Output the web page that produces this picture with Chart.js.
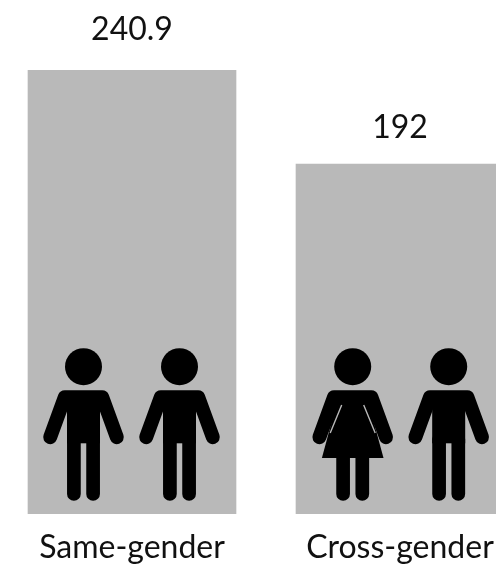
<!DOCTYPE html>
<html>
<head>
<meta charset="utf-8">
<title>Same-gender vs cross-gender</title>
<script src="https://cdn.jsdelivr.net/npm/chart.js@4/dist/chart.umd.min.js"></script>
<style>
    html, body {margin: 0; padding: 0; background: #fff; overflow: hidden; width: 496px; height: 565px;}
    #wrap {position: absolute; left: -2px; top: 0;}
</style>
</head>
<body>
<div id="wrap"><canvas id="chart" width="536" height="565"></canvas></div>
<script>
const categories = ['Same-gender', 'Cross-gender']
const values = [240.9, 192]
const valueLabels = ['240.9', '192']
const pairs = [['man', 'man'], ['woman', 'man']]

const barColor = '#b9b9b9'
const inkColor = '#000000'
const textColor = '#111111'
const fontName = 'Lato'

function drawPerson(ctx, kind, x, base){
    ctx.save()
    ctx.translate(x, base)
    ctx.fillStyle = inkColor
    ctx.strokeStyle = inkColor
    ctx.lineCap = 'round'
    ctx.lineJoin = 'round'

    ctx.beginPath()
    ctx.arc(0, -147.3, 18.5, 0, Math.PI * 2)
    ctx.fill()

    // shoulders and arms
    ctx.lineWidth = 14
    ctx.beginPath()
    ctx.moveTo(-33.3, -76.8)
    ctx.lineTo(-18.7, -116.8)
    ctx.lineTo(18.7, -116.8)
    ctx.lineTo(33.3, -76.8)
    ctx.stroke()

    // legs
    ctx.lineWidth = 13.7
    ctx.beginPath()
    ctx.moveTo(-9.6, -75)
    ctx.lineTo(-9.6, -20)
    ctx.moveTo(9.6, -75)
    ctx.lineTo(9.6, -20)
    ctx.stroke()

    if (kind === 'man'){
        ctx.fillRect(-16.5, -118, 33, 47.3)
    } else {
        ctx.beginPath()
        ctx.moveTo(-14, -118)
        ctx.lineTo(14, -118)
        ctx.lineTo(30.8, -56)
        ctx.lineTo(-30.8, -56)
        ctx.closePath()
        ctx.fill()
        // thin gap between the arms and the dress
        ctx.strokeStyle = barColor
        ctx.lineCap = 'butt'
        ctx.lineWidth = 1.4
        ctx.beginPath()
        ctx.moveTo(-11, -109)
        ctx.lineTo(-22.5, -81)
        ctx.moveTo(11, -109)
        ctx.lineTo(22.5, -81)
        ctx.stroke()
    }
    ctx.restore()
}

const peoplePlugin = {
    id: 'people',
    afterDatasetsDraw(chart){
        const ctx = chart.ctx
        const base = chart.chartArea.bottom
        chart.getDatasetMeta(0).data.forEach((bar, i)=>{
            const shift = i === 0 ? -0.5 : 0.7
            drawPerson(ctx, pairs[i][0], bar.x - 48 + shift, base)
            drawPerson(ctx, pairs[i][1], bar.x + 48 + shift, base)
        })
    }
}

const valueLabelPlugin = {
    id: 'valueLabels',
    afterDatasetsDraw(chart){
        const ctx = chart.ctx
        const gaps = [30.5, 26]
        ctx.save()
        ctx.font = `32px ${fontName}`
        ctx.fillStyle = textColor
        ctx.textAlign = 'center'
        ctx.textBaseline = 'alphabetic'
        chart.getDatasetMeta(0).data.forEach((bar, i)=>{
            ctx.fillText(valueLabels[i], bar.x, bar.y - gaps[i])
        })
        ctx.restore()
    }
}

new Chart(document.getElementById('chart'), {
    type: 'bar',
    data: {
        labels: categories,
        datasets: [{
            data: values,
            backgroundColor: barColor,
            borderWidth: 0,
            barThickness: 208
        }]
    },
    options: {
        responsive: false,
        animation: false,
        layout: {padding: {top: 70, left: 0, right: 0, bottom: 0}},
        plugins: {
            legend: {display: false},
            tooltip: {enabled: false}
        },
        scales: {
            x: {
                grid: {display: false},
                border: {display: false},
                afterFit: (scale)=>{scale.height = 51},
                ticks: {
                    color: textColor,
                    padding: 6,
                    maxRotation: 0,
                    autoSkip: false,
                    font: {family: fontName, size: 32}
                }
            },
            y: {
                display: false,
                min: 9.9,
                max: 240.9
            }
        }
    },
    plugins: [peoplePlugin, valueLabelPlugin]
})
</script>
</body>
</html>
